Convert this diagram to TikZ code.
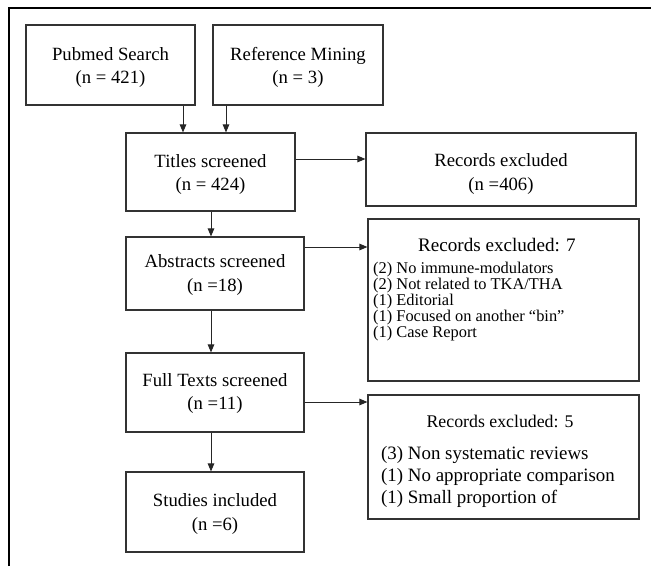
\documentclass[tikz,border=0pt]{standalone}
\usepackage{fontspec}
\setmainfont{Liberation Serif}
\usetikzlibrary{arrows.meta,calc}
\tikzset{
  box/.style={draw=black!80, line width=1.1pt, inner sep=0pt},
  txt/.style={inner sep=0pt, align=center, text=black,
    font=\fontsize{18.7}{23.5}\selectfont},
  arr/.style={draw=black!85, line width=1pt, -{Triangle[length=8pt,width=6.5pt]}},
  ttl/.style={inner sep=0pt, anchor=base, text=black},
  itmA/.style={inner sep=0pt, anchor=base west, text=black, font=\fontsize{16.4}{16}\selectfont},
  itmB/.style={inner sep=0pt, anchor=base west, text=black, font=\fontsize{18.9}{22}\selectfont},
  frame/.style={draw=black, line width=2pt}
}
\begin{document}
\begin{tikzpicture}[x=1pt,y=-1pt]
\useasboundingbox (0,0) rectangle (651,566);
\draw[frame] (9,566) -- (9,8.3) -- (651,8.3);

\node[box, minimum width=169pt, minimum height=80pt] (pub) at (110.5,65) {};
\node[txt] (pubt) at ($(pub.center)+(0,2.5)$) {Pubmed Search\\(n = 421)};
\node[box, minimum width=170pt, minimum height=80pt] (ref) at (298,65) {};
\node[txt] (reft) at ($(ref.center)+(0,2.5)$) {Reference Mining\\(n = 3)};
\node[box, minimum width=169pt, minimum height=78pt] (tit) at (210.5,172) {};
\node[txt] (titt) at ($(tit.center)+(0,2.5)$) {Titles screened\\(n = 424)};
\node[box, minimum width=270pt, minimum height=73pt] (r406) at (501,169.5) {};
\node[txt] (r406t) at ($(r406.center)+(0,4.5)$) {Records excluded\\(n =406)};
\node[box, minimum width=178pt, minimum height=73pt] (abs) at (215,273.5) {};
\node[txt] (abst) at ($(abs.center)+(0,1.5)$) {Abstracts screened\\(n =18)};
\node[box, minimum width=178pt, minimum height=79pt] (full) at (215,392.5) {};
\node[txt] (fullt) at ($(full.center)+(0,1)$) {Full Texts screened\\(n =11)};
\node[box, minimum width=178pt, minimum height=80pt] (stu) at (215,512) {};
\node[txt] (stut) at ($(stu.center)+(0,2)$) {Studies included\\(n =6)};

\node[box, minimum width=271pt, minimum height=162pt] (r7) at (503.5,300) {};
\node[ttl, font=\fontsize{19.1}{23}\selectfont] (r7t) at (497,251.5) {Records excluded: 7};
\node[itmA] (r7a) at (373,273) {(2) No immune-modulators};
\node[itmA] (r7b) at (373,289) {(2) Not related to TKA/THA};
\node[itmA] (r7c) at (373,305) {(1) Editorial};
\node[itmA] (r7d) at (373,321) {(1) Focused on another “bin”};
\node[itmA] (r7e) at (373,337) {(1) Case Report};

\node[box, minimum width=271pt, minimum height=124pt] (r5) at (503.5,457) {};
\node[ttl, font=\fontsize{17.8}{22}\selectfont] (r5t) at (500,427) {Records excluded: 5};
\node[itmB] (r5a) at (381,459) {(3) Non systematic reviews};
\node[itmB] (r5b) at (381,481) {(1) No appropriate comparison};
\node[itmB] (r5c) at (381,503) {(1) Small proportion of};

\coordinate (x1) at (183,0);
\coordinate (x2) at (226,0);
\coordinate (x3) at (211,0);
\coordinate (y1) at (0,159);
\coordinate (y2) at (0,247);
\coordinate (y3) at (0,402);

\draw[arr] (pub.south -| x1) -- (tit.north -| x1);
\draw[arr] (ref.south -| x2) -- (tit.north -| x2);
\draw[arr] (tit.east |- y1) -- (r406.west |- y1);
\draw[arr] (tit.south -| x3) -- (abs.north -| x3);
\draw[arr] (abs.east |- y2) -- (r7.west |- y2);
\draw[arr] (abs.south -| x3) -- (full.north -| x3);
\draw[arr] (full.east |- y3) -- (r5.west |- y3);
\draw[arr] (full.south -| x3) -- (stu.north -| x3);
\end{tikzpicture}
\end{document}
